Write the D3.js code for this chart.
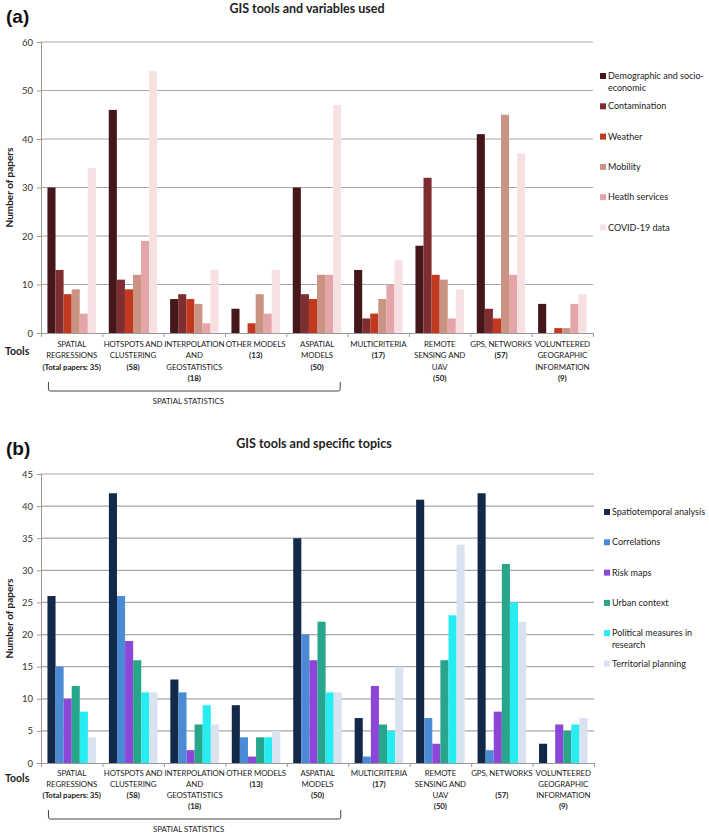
<!DOCTYPE html>
<html>
<head>
<meta charset="utf-8">
<script src="https://cdn.jsdelivr.net/npm/d3@7"></script>
<style>
  body { margin: 0; background: #fff; }
  svg { font-family: Lato, "Open Sans", sans-serif; }
</style>
</head>
<body>
<svg id="chart" width="709" height="836"></svg>
<script>
// categories (tools), one array of text lines per group
var tools = [
  ["SPATIAL", "REGRESSIONS", "(Total papers: 35)"],
  ["HOTSPOTS AND", "CLUSTERING", "(58)"],
  ["INTERPOLATION", "AND", "GEOSTATISTICS", "(18)"],
  ["OTHER MODELS", "(13)"],
  ["ASPATIAL", "MODELS", "(50)"],
  ["MULTICRITERIA", "(17)"],
  ["REMOTE", "SENSING AND", "UAV", "(50)"],
  ["GPS, NETWORKS", "(57)"],
  ["VOLUNTEERED", "GEOGRAPHIC", "INFORMATION", "(9)"]
];
var toolsB = [
  ["SPATIAL", "REGRESSIONS", "(Total papers: 35)"],
  ["HOTSPOTS AND", "CLUSTERING", "(58)"],
  ["INTERPOLATION", "AND", "GEOSTATISTICS", "(18)"],
  ["OTHER MODELS", "(13)"],
  ["ASPATIAL", "MODELS", "(50)"],
  ["MULTICRITERIA", "(17)"],
  ["REMOTE", "SENSING AND", "UAV", "(50)"],
  ["GPS, NETWORKS", "", "(57)"],
  ["VOLUNTEERED", "GEOGRAPHIC", "INFORMATION", "(9)"]
];

// panel (a): variables used
var demographic   = [30, 46, 7, 5, 30, 13, 18, 41, 6];
var contamination = [13, 11, 8, 0, 8, 3, 32, 5, 0];
var weather       = [8, 9, 7, 2, 7, 4, 12, 3, 1];
var mobility      = [9, 12, 6, 8, 12, 7, 11, 45, 1];
var healthServ    = [4, 19, 2, 4, 12, 10, 3, 12, 6];
var covidData     = [34, 54, 13, 13, 47, 15, 9, 37, 8];
var namesA = [["Demographic and socio-", "economic"], ["Contamination"], ["Weather"], ["Mobility"], ["Heatlh services"], ["COVID-19 data"]];
var ticksA = [0, 10, 20, 30, 40, 50, 60];

// panel (b): specific topics
var spatiotemporal = [26, 42, 13, 9, 35, 7, 41, 42, 3];
var correlations   = [15, 26, 11, 4, 20, 1, 7, 2, 0];
var riskMaps       = [10, 19, 2, 1, 16, 12, 3, 8, 6];
var urbanContext   = [12, 16, 6, 4, 22, 6, 16, 31, 5];
var politicalMeas  = [8, 11, 9, 4, 11, 5, 23, 25, 6];
var territorial    = [4, 11, 6, 5, 11, 15, 34, 22, 7];
var namesB = [["Spatiotemporal analysis"], ["Correlations"], ["Risk maps"], ["Urban context"], ["Political measures in", "research"], ["Territorial planning"]];
var ticksB = [0, 5, 10, 15, 20, 25, 30, 35, 40, 45];

var svg = d3.select("#chart");

function drawPanel(o) {
  var g = svg.append("g");
  var n = o.labels.length;

  var x0 = d3.scaleBand().domain(d3.range(n)).range([o.left, o.right]).paddingInner(0.21).paddingOuter(0.105);
  var x1 = d3.scaleBand().domain(d3.range(o.series.length)).range([0, x0.bandwidth()]);
  var xb = d3.scaleLinear().domain([0, n]).range([o.left, o.right]);
  var y = d3.scaleLinear().domain([0, o.max]).range([o.bottom, o.top]);

  // panel letter + title
  g.append("text").attr("x", 6).attr("y", o.letterY).attr("font-size", 19).attr("font-weight", "bold")
    .attr("font-family", "Liberation Sans, Arial, sans-serif").attr("fill", "#111").text(o.letter);
  g.append("text").attr("x", o.titleX).attr("y", o.titleY).attr("text-anchor", "middle")
    .attr("font-size", 12.5).attr("font-weight", "bold").attr("fill", "#222").text(o.title);

  // gridlines
  g.selectAll(".grid").data(o.ticks.slice(1)).enter().append("line")
    .attr("x1", o.left).attr("x2", o.right)
    .attr("y1", function(d) { return y(d); }).attr("y2", function(d) { return y(d); })
    .attr("stroke", "#a8a8a8").attr("stroke-width", 1.2);

  // y axis
  var ya = g.append("g").attr("transform", "translate(" + o.left + ",0)")
    .call(d3.axisLeft(y).tickValues(o.ticks).tickSize(4).tickPadding(4));
  ya.selectAll("path, line").attr("stroke", "#999");
  ya.selectAll("text").attr("font-size", 9.5).attr("fill", "#333").attr("font-family", "Lato, sans-serif");

  g.append("text")
    .attr("transform", "translate(13," + ((o.top + o.bottom) / 2) + ") rotate(-90)")
    .attr("text-anchor", "middle").attr("font-size", 10).attr("font-weight", "bold").attr("fill", "#222")
    .text("Number of papers");

  // bars
  var grp = g.selectAll(".grp").data(o.labels).enter().append("g")
    .attr("transform", function(d, i) { return "translate(" + x0(i) + ",0)"; });
  grp.selectAll("rect").data(function(d, i) { return o.series.map(function(s) { return s[i]; }); })
    .enter().append("rect")
    .attr("x", function(d, j) { return x1(j); })
    .attr("width", x1.bandwidth())
    .attr("y", function(d) { return y(d); })
    .attr("height", function(d) { return o.bottom - y(d); })
    .attr("fill", function(d, j) { return o.colors[j]; });

  // x axis with ticks on group boundaries
  var xa = g.append("g").attr("transform", "translate(0," + o.bottom + ")")
    .call(d3.axisBottom(xb).tickValues(d3.range(n + 1)).tickSize(4).tickFormat(""));
  xa.selectAll("path, line").attr("stroke", "#999");

  g.append("text").attr("x", 5).attr("y", o.toolsY).attr("font-size", 10.5).attr("font-weight", "bold")
    .attr("fill", "#222").text("Tools");

  // category labels
  var lab = g.selectAll(".lab").data(o.labels).enter().append("text")
    .attr("text-anchor", "middle").attr("font-size", 7.9).attr("letter-spacing", -0.1).attr("fill", "#222");
  lab.selectAll("tspan").data(function(d, i) { return d.map(function(t) { return {t: t, i: i}; }); })
    .enter().append("tspan")
    .attr("x", function(d) { return x0(d.i) + x0.bandwidth() / 2; })
    .attr("y", function(d, k) { return o.labelY + k * o.lineH; })
    .attr("font-weight", function(d) { return d.t.charAt(0) === "(" ? "bold" : "normal"; })
    .text(function(d) { return d.t; });

  // spatial statistics bracket (first five tools)
  var bx1 = x0(0) + 1, bx2 = x0(4) + x0.bandwidth() - 1;
  g.append("path")
    .attr("d", "M" + bx1 + "," + o.bracketY + "V" + (o.bracketY + 7) + "Q" + bx1 + "," + (o.bracketY + 9) + " " + (bx1 + 2) + "," + (o.bracketY + 9) +
      "H" + (bx2 - 2) + "Q" + bx2 + "," + (o.bracketY + 9) + " " + bx2 + "," + (o.bracketY + 7) + "V" + o.bracketY)
    .attr("fill", "none").attr("stroke", "#444").attr("stroke-width", 1);
  g.append("text").attr("x", (bx1 + bx2) / 2 - 6).attr("y", o.bracketY + 22).attr("text-anchor", "middle")
    .attr("font-size", 7.8).attr("fill", "#222").text("SPATIAL STATISTICS");

  // legend
  var leg = g.selectAll(".leg").data(o.names).enter().append("g")
    .attr("transform", function(d, j) { return "translate(" + o.legX + "," + (o.legY + j * o.legStep) + ")"; });
  leg.append("rect").attr("x", 0).attr("y", -6).attr("width", 6).attr("height", 6)
    .attr("fill", function(d, j) { return o.colors[j]; });
  leg.append("text").attr("font-size", 9).attr("fill", "#222")
    .selectAll("tspan").data(function(d) { return d; }).enter().append("tspan")
    .attr("x", 8).attr("y", function(d, k) { return k * 12; })
    .text(function(d) { return d; });
}

drawPanel({
  letter: "(a)", letterY: 23, title: "GIS tools and variables used", titleX: 307, titleY: 13,
  left: 41, right: 593, top: 42, bottom: 333, max: 60, ticks: ticksA,
  labels: tools, labelY: 347, lineH: 11.3, toolsY: 355, bracketY: 382,
  series: [demographic, contamination, weather, mobility, healthServ, covidData],
  colors: ["#45171a", "#7e2e31", "#c1391f", "#c99484", "#e3a5a7", "#f6e0e1"],
  names: namesA, legX: 600, legY: 79, legStep: 30.3
});

drawPanel({
  letter: "(b)", letterY: 455, title: "GIS tools and specific topics", titleX: 314, titleY: 448,
  left: 41, right: 594, top: 474, bottom: 763, max: 45, ticks: ticksB,
  labels: toolsB, labelY: 776, lineH: 11, toolsY: 782, bracketY: 810,
  series: [spatiotemporal, correlations, riskMaps, urbanContext, politicalMeas, territorial],
  colors: ["#13294a", "#4b8bd6", "#8a47d8", "#27a68b", "#27ecf2", "#d9e3f0"],
  names: namesB, legX: 604, legY: 515, legStep: 30.3
});
</script>
</body>
</html>
